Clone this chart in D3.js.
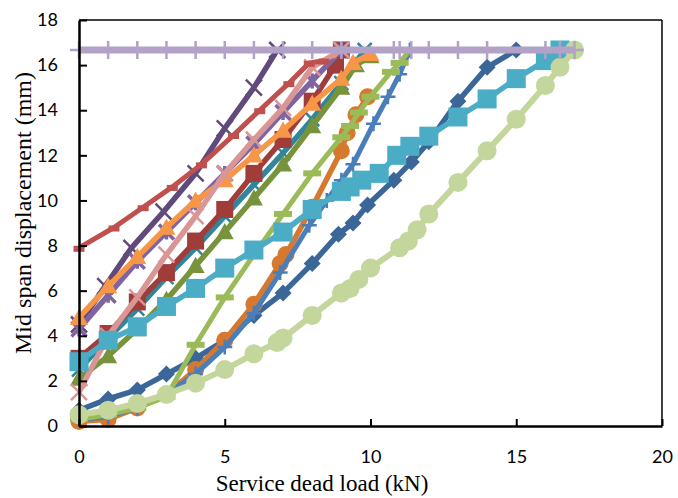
<!DOCTYPE html>
<html><head><meta charset="utf-8">
<script src="https://cdn.jsdelivr.net/npm/d3@7"></script>
<style>body{margin:0;background:#fff}svg{display:block}</style>
</head><body>
<svg id="c" width="678" height="498"></svg>
<script>
// ---- data (load kN, displacement mm) ----
const xTicks = [0, 5, 10, 15, 20];
const yTicks = [0, 2, 4, 6, 8, 10, 12, 14, 16, 18];

const darkBlueX = [0,1,2,3,4,5,6,7,8,8.9,9.4,9.9,10.8,11.4,12,13,14,15];
const darkBlueY = [0.7,1.2,1.6,2.3,3.0,3.8,4.9,5.9,7.2,8.5,9.0,9.8,10.9,11.7,12.6,14.4,15.9,16.67];
const orangeCircX = [0,1,2,3,4,5,6,6.9,7.1,8,9,9.2,9.5,9.9];
const orangeCircY = [0.2,0.3,0.8,1.4,2.5,3.8,5.4,7.2,7.6,9.7,12.2,13.0,13.8,14.6];
const bluePlusX = [0,1,2,3,4,5,6,6.9,7.9,8.5,9.0,9.4,10.1,10.6,11.0,11.35];
const bluePlusY = [0.3,0.4,0.8,1.4,2.3,3.5,5.0,6.8,8.9,10.0,10.9,11.6,13.4,14.6,15.6,16.67];
const darkTealX = [0,1,2,3,4,5,6,7,8,9,9.8];
const darkTealY = [2.5,3.9,5.2,6.6,7.9,9.3,10.7,12.1,13.6,15.2,16.67];
const darkRedX = [0,1,2,3,4,5,6,7,8,8.8,9];
const darkRedY = [3.0,4.1,5.5,6.8,8.2,9.6,11.2,12.7,14.4,16.0,16.67];
const oliveX = [0,1,2,3,4,5,6,7,8,9,9.5,10];
const oliveY = [2.1,3.1,4.3,5.6,7.1,8.6,10.1,11.6,13.3,15.0,16.0,16.4];
const yGreenX = [0,1,2,3,4,5,6,7,8,9,9.3,9.6,10,10.7,11,11.35];
const yGreenY = [0.3,0.5,0.8,1.3,3.6,5.7,7.6,9.4,11.2,12.8,13.3,13.9,14.6,15.7,16.1,16.67];
const darkPurpleX = [0,0.9,1.8,2.9,4.0,5.0,6.0,6.8];
const darkPurpleY = [4.5,6.2,7.9,9.5,11.2,13.2,15.0,16.67];
const purpleX = [0,1,2,3,4,5,6,7,8,9];
const purpleY = [4.3,5.8,7.3,8.6,9.9,11.2,12.5,13.9,15.3,16.67];
const orangeTriX = [0,1,2,3,4,5,6,7,8,9,9.4,10];
const orangeTriY = [4.8,6.2,7.5,8.8,10.0,10.9,12.0,13.1,14.3,15.4,16.1,16.5];
const pinkX = [0,1,2,3,4,5,6,7,8,9];
const pinkY = [1.5,4.0,5.7,7.6,9.3,11.2,12.7,14.1,15.9,16.67];
const redX = [0,1.2,2.2,3.2,4.2,5.3,6.2,7.2,7.9,8.4];
const redY = [7.9,8.8,9.7,10.6,11.6,12.9,14.0,15.2,16.1,16.2];
const tealSqX = [0,1,2,3,4,5,6,7,8,9,9.3,9.7,10.3,10.9,11.35,12,13,14,15,16,16.5];
const tealSqY = [2.85,3.8,4.4,5.3,6.1,7.0,7.8,8.6,9.6,10.4,10.6,10.9,11.2,12.0,12.4,12.85,13.7,14.5,15.4,16.2,16.67];
const lightGreenX = [0,1,2,3,4,5,6,6.8,7,8,9,9.3,9.6,10,11,11.3,11.6,12,13,14,15,16,16.5,17];
const lightGreenY = [0.5,0.7,1.0,1.4,1.9,2.5,3.2,3.7,3.9,4.9,5.9,6.1,6.5,7.0,7.9,8.2,8.7,9.4,10.8,12.2,13.6,15.1,15.9,16.67];
const limitX = [0,1,2,3,4,5,6,7,8,9,10.8,11,11.4,12,13,14,16,16.5,17];
const limitY = limitX.map(() => 16.67);

// series list (drawing order) with styles
const series = [
  {x: darkBlueX,  y: darkBlueY,  color: "#3B6698", w: 5.5, m: "diamond", s: 17},
  {x: orangeCircX,y: orangeCircY,color: "#D6792F", w: 5.5, m: "circle",  s: 17},
  {x: bluePlusX,  y: bluePlusY,  color: "#4A7EBB", w: 5,   m: "plus",    s: 15},
  {x: darkTealX,  y: darkTealY,  color: "#31859C", w: 5.5, m: "x",       s: 14},
  {x: darkRedX,   y: darkRedY,   color: "#A03C3A", w: 5.5, m: "square",  s: 17},
  {x: oliveX,     y: oliveY,     color: "#77933C", w: 5.5, m: "triangle",s: 18},
  {x: yGreenX,    y: yGreenY,    color: "#9BBB59", w: 5,   m: "dash",    s: 18},
  {x: darkPurpleX,y: darkPurpleY,color: "#604A7B", w: 5.5, m: "x",       s: 16},
  {x: purpleX,    y: purpleY,    color: "#8064A2", w: 5.5, m: "star",    s: 15},
  {x: orangeTriX, y: orangeTriY, color: "#F79646", w: 5.5, m: "triangle",s: 18},
  {x: pinkX,      y: pinkY,      color: "#D99694", w: 5.5, m: "x",       s: 16},
  {x: redX,       y: redY,       color: "#C0504D", w: 5,   m: "rdash",   s: 11},
  {x: tealSqX,    y: tealSqY,    color: "#4BACC6", w: 5.5, m: "square",  s: 19},
  {x: lightGreenX,y: lightGreenY,color: "#C3D69B", w: 6,   m: "circle",  s: 19},
  {x: limitX,     y: limitY,     color: "#B3A2C7", w: 7,   m: "plus",    s: 18}
];

const svg = d3.select("#c");
const xs = d3.scaleLinear().domain([0, 20]).range([79, 662]);
const ys = d3.scaleLinear().domain([0, 18]).range([426, 20]);

// frame (top/right thin)
svg.append("line").attr("x1", 79).attr("x2", 662).attr("y1", 20).attr("y2", 20).attr("stroke", "#000").attr("stroke-width", 1.5);
svg.append("line").attr("x1", 662).attr("x2", 662).attr("y1", 20).attr("y2", 426).attr("stroke", "#000").attr("stroke-width", 1.5);

const lineGen = d3.line().x(d => xs(d[0])).y(d => ys(d[1]));
const plot = svg.append("g");

function drawMarker(g, m, s, color, cx, cy) {
  const h = s / 2;
  if (m === "circle") {
    g.append("circle").attr("cx", cx).attr("cy", cy).attr("r", h).attr("fill", color);
  } else if (m === "square") {
    g.append("rect").attr("x", cx - h).attr("y", cy - h).attr("width", s).attr("height", s).attr("fill", color);
  } else if (m === "diamond") {
    g.append("path").attr("d", `M${cx},${cy - h}L${cx + h},${cy}L${cx},${cy + h}L${cx - h},${cy}Z`).attr("fill", color);
  } else if (m === "triangle") {
    g.append("path").attr("d", `M${cx},${cy - h}L${cx + h},${cy + h * 0.8}L${cx - h},${cy + h * 0.8}Z`).attr("fill", color);
  } else if (m === "x") {
    g.append("path").attr("d", `M${cx - h},${cy - h}L${cx + h},${cy + h}M${cx - h},${cy + h}L${cx + h},${cy - h}`).attr("stroke", color).attr("stroke-width", 2.5);
  } else if (m === "plus") {
    g.append("path").attr("d", `M${cx - h},${cy}L${cx + h},${cy}M${cx},${cy - h}L${cx},${cy + h}`).attr("stroke", color).attr("stroke-width", 2.5);
  } else if (m === "star") {
    g.append("path").attr("d", `M${cx - h},${cy - h}L${cx + h},${cy + h}M${cx - h},${cy + h}L${cx + h},${cy - h}M${cx},${cy - h}L${cx},${cy + h}`).attr("stroke", color).attr("stroke-width", 3.5);
  } else if (m === "dash") {
    g.append("rect").attr("x", cx - h).attr("y", cy - 3).attr("width", s).attr("height", 6).attr("fill", color);
  } else if (m === "rdash") {
    g.append("rect").attr("x", cx - h).attr("y", cy - 2).attr("width", s).attr("height", 6).attr("fill", color);
  }
}

series.forEach(sr => {
  const pts = sr.x.map((v, i) => [v, sr.y[i]]);
  const g = plot.append("g");
  g.append("path").attr("d", lineGen(pts)).attr("fill", "none")
    .attr("stroke", sr.color).attr("stroke-width", sr.w).attr("stroke-linejoin", "round");
  pts.forEach(p => drawMarker(g, sr.m, sr.s, sr.color, xs(p[0]), ys(p[1])));
});

// axes
const ax = svg.append("g").attr("transform", "translate(0,426)")
  .call(d3.axisBottom(xs).tickValues(xTicks).tickSizeInner(-7).tickSizeOuter(0).tickPadding(24).tickFormat(d3.format("d")));
const ay = svg.append("g").attr("transform", "translate(79,0)")
  .call(d3.axisLeft(ys).tickValues(yTicks).tickSizeInner(-8).tickSizeOuter(0).tickPadding(21).tickFormat(d3.format("d")));
[ax, ay].forEach(a => {
  a.select(".domain").attr("stroke", "#000").attr("stroke-width", 2.5);
  a.selectAll(".tick line").attr("stroke", "#000").attr("stroke-width", 2);
  a.selectAll(".tick text").attr("font-family", "Lato, sans-serif").attr("font-size", 18).attr("fill", "#000");
});

svg.append("text").attr("x", 322).attr("y", 491).attr("text-anchor", "middle")
  .attr("font-family", "'Liberation Serif', 'Times New Roman', serif").attr("font-size", 23)
  .text("Service dead load (kN)");
svg.append("text").attr("transform", "translate(31,213) rotate(-90)").attr("text-anchor", "middle")
  .attr("font-family", "'Liberation Serif', 'Times New Roman', serif").attr("font-size", 24)
  .text("Mid span displacement (mm)");
</script>
</body></html>
